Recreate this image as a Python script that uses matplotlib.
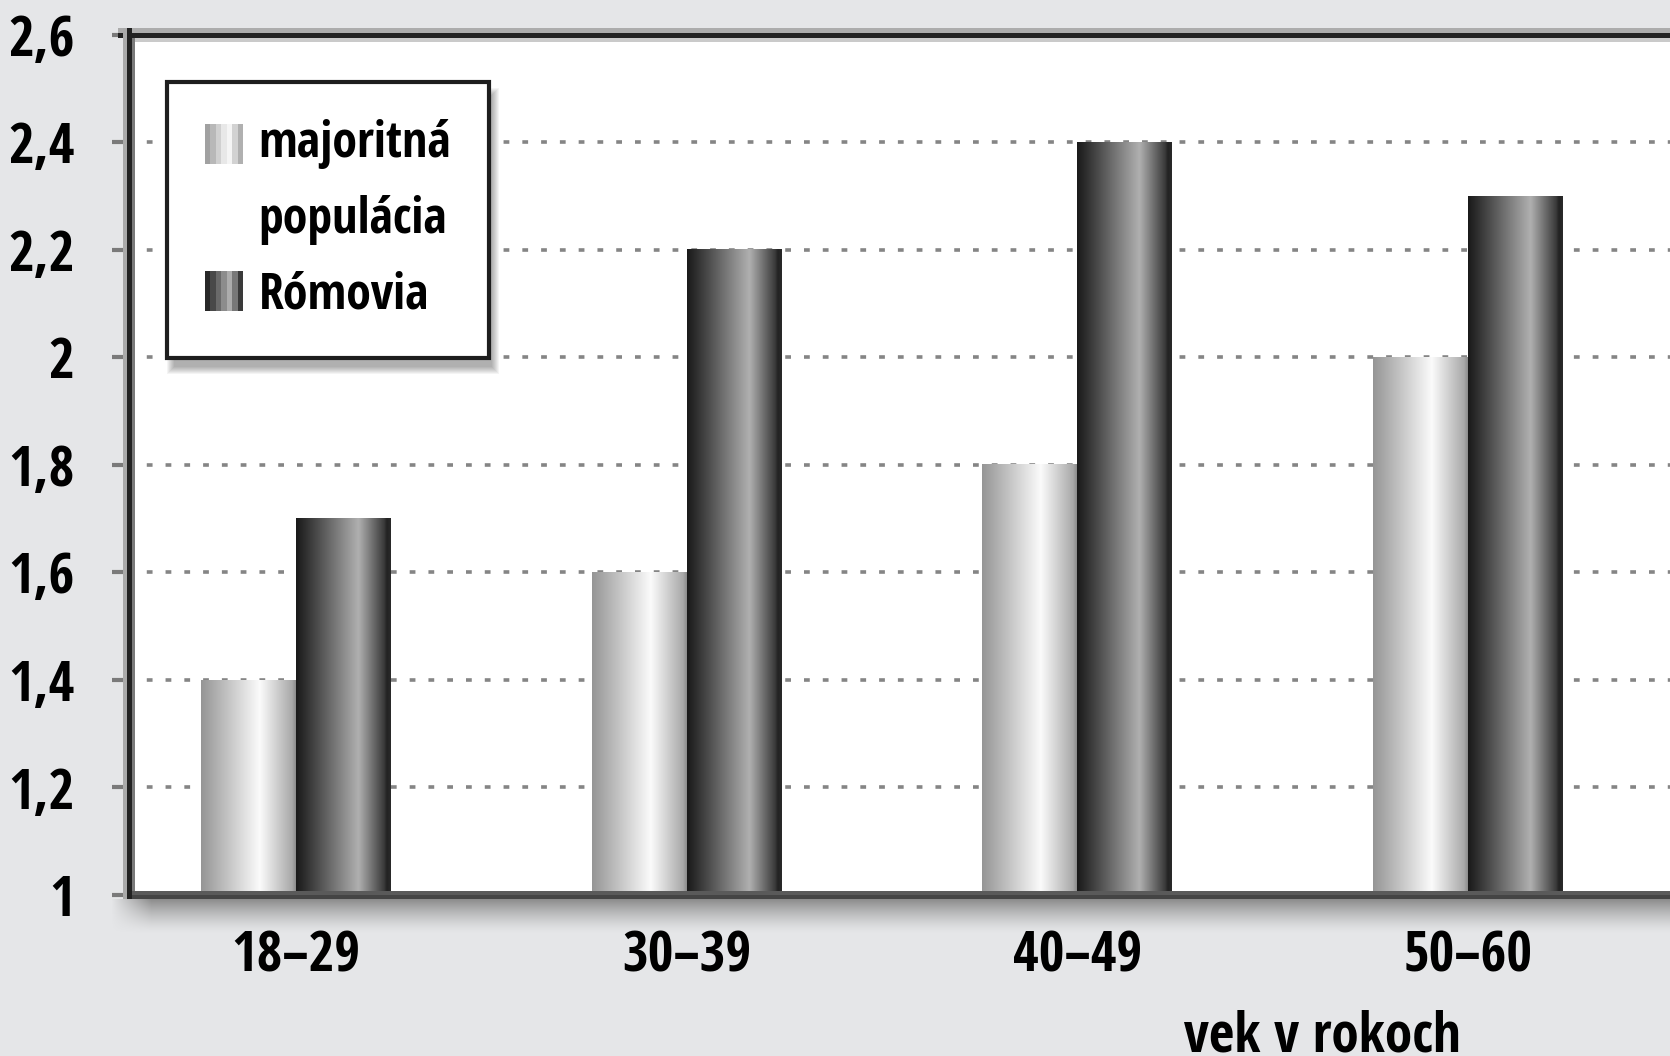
import numpy as np
import matplotlib
matplotlib.use('Agg')
import matplotlib.pyplot as plt
from matplotlib.colors import LinearSegmentedColormap
from matplotlib.legend_handler import HandlerBase
from matplotlib.patches import Rectangle
from matplotlib.transforms import IdentityTransform

# data
age_groups = ['18–29', '30–39', '40–49', '50–60']
majority = [1.4, 1.6, 1.8, 2.0]
roma = [1.7, 2.2, 2.4, 2.3]
series_labels = ['majoritná\npopulácia', 'Rómovia']
y_ticks = [1, 1.2, 1.4, 1.6, 1.8, 2, 2.2, 2.4, 2.6]
y_tick_labels = ['1', '1,2', '1,4', '1,6', '1,8', '2', '2,2', '2,4', '2,6']
x_title = 'vek v rokoch'

W, H = 1670, 1056
BG = '#e5e6e8'
plt.rcParams['font.family'] = ['Open Sans Condensed', 'DejaVu Sans']
plt.rcParams['font.weight'] = 'bold'

light = LinearSegmentedColormap.from_list(
    'light', [(0, '#959595'), (0.62, '#fbfbfb'), (0.96, '#a9a9a9'), (1, '#8c8c8c')])
dark = LinearSegmentedColormap.from_list(
    'dark', [(0, '#1a1a1a'), (0.06, '#262626'), (0.66, '#b0b0b0'),
             (0.93, '#3a3a3a'), (0.96, '#222222'), (1, '#2a2a2a')])


def fx(x):
    return x / W


def fy(y):
    # image pixel row -> figure fraction
    return 1 - y / H


fig = plt.figure(figsize=(W / 100, H / 100), dpi=100, facecolor=BG)

# axes box in image pixels (right side runs off the picture)
ax_l, ax_t, ax_r, ax_b = 128, 35, 1700, 895
ax = fig.add_axes([fx(ax_l), fy(ax_b), fx(ax_r - ax_l), (ax_b - ax_t) / H])
ax.set_facecolor('white')

x = np.arange(len(age_groups))
bw = 0.243
bars_maj = ax.bar(x - bw / 2, majority, bw, color='none', edgecolor='none')
bars_rom = ax.bar(x + bw / 2, roma, bw, color='none', edgecolor='none')

# cylinder-like shading on each bar
grad = np.linspace(0, 1, 256)[None, :]
for bars, cmap in ((bars_maj, light), (bars_rom, dark)):
    for r in bars:
        x0 = r.get_x()
        ax.imshow(grad, cmap=cmap, aspect='auto', interpolation='bilinear',
                  extent=[x0, x0 + r.get_width(), 0, r.get_height()], zorder=3)

group0, step = 296, 390.7
ax.set_xlim((ax_l - group0) / step, (ax_r - group0) / step)
ax.set_ylim(1, 2.6)

fs = 40
ax.set_yticks(y_ticks, y_tick_labels)
ax.set_xticks(x, age_groups)
ax.tick_params(axis='y', direction='out', length=11.5, width=3, color='#7a7a7a',
               pad=27, labelsize=fs)
ax.tick_params(axis='x', length=0, pad=25, labelsize=fs)
for s in ax.spines.values():
    s.set_visible(False)
ax.set_axisbelow(True)
ax.yaxis.grid(True, color='#858585', linewidth=2.6, linestyle=(0, (1.6, 3.6)))

ax.set_xlabel(x_title, fontsize=fs, fontweight='bold')
ax.xaxis.set_label_coords((1322 - ax_l) / (ax_r - ax_l), -(1052 - ax_b) / (ax_b - ax_t))
ax.xaxis.label.set_va('baseline')


# frame: top and left edges with a bit of relief
def band(x0, x1, y0, y1, color):
    fig.add_artist(Rectangle((fx(x0), fy(y1)), fx(x1 - x0), (y1 - y0) / H,
                             transform=fig.transFigure, facecolor=color,
                             edgecolor='none', zorder=3))


band(118, W, 28, 33, '#acacac')
band(118, W, 33, 38, '#222222')
band(132, W, 38, 42, '#cacaca')
band(123, 127, 28, 899, '#aaaaaa')
band(127, 132, 28, 899, '#222222')
band(132, 135, 38, 891, '#7a7a7a')

# bottom edge + soft shadow under the plot
sx0, sy0, sy1 = 111, 891, 933
rows, cols = sy1 - sy0, W - sx0
img = np.zeros((rows, cols, 4))
xs = np.arange(cols) + sx0
edge = np.clip((xs - 111) / 40, 0, 1)
for i in range(rows):
    if i < 4:
        img[i, :, :3] = 0x5a / 255
        img[i, :, 3] = (xs >= 127)
    elif i < 8:
        img[i, :, :3] = 0x44 / 255
        img[i, :, 3] = (xs >= 127)
    else:
        t = (i - 8) / (rows - 8)
        img[i, :, :3] = 0x8c / 255
        img[i, :, 3] = (1 - t) ** 1.4 * edge
sh = fig.add_axes([fx(sx0), fy(sy1), fx(cols), rows / H])
sh.imshow(img, aspect='auto', interpolation='nearest')
sh.set_axis_off()
sh.set_zorder(2)


class StripHandler(HandlerBase):
    def __init__(self, cmap, lift=0.0):
        super().__init__()
        self.cmap = cmap
        self.lift = lift

    def create_artists(self, legend, orig_handle, xdescent, ydescent,
                       width, height, fontsize, trans):
        n = 7
        out = []
        for i in range(n):
            out.append(Rectangle((-xdescent + i * width / n, -ydescent + self.lift),
                                 width / n, height, facecolor=self.cmap((i + 0.5) / n),
                                 edgecolor='none', transform=trans))
        return out


lfs = 36
line_sp = 1.68
h_maj = Rectangle((0, 0), 1, 1)
h_rom = Rectangle((0, 0), 1, 1)
leg = ax.legend([h_maj, h_rom], series_labels,
                handler_map={h_maj: StripHandler(light, lift=29),
                             h_rom: StripHandler(dark)},
                loc='upper left',
                bbox_to_anchor=((167 - ax_l) / (ax_r - ax_l), 1 - (82 - ax_t) / (ax_b - ax_t)),
                borderaxespad=0, borderpad=0.75, fontsize=lfs,
                handlelength=28 / lfs, handleheight=31 / lfs, handletextpad=0.3,
                labelspacing=0.5, fancybox=False, framealpha=1,
                edgecolor='#1e1e1e', facecolor='white')
leg.get_frame().set_linewidth(3)
leg.get_texts()[0].set_linespacing(line_sp)
leg.set_zorder(6)

# soft drop shadow behind the legend
fig.canvas.draw()
bb = leg.get_window_extent()
for k in range(1, 9):
    ax.add_patch(Rectangle((bb.x0 + 8 - k, bb.y0 - 8 - k), bb.width + 2 * k - 6,
                           bb.height + 2 * k - 6, transform=IdentityTransform(),
                           facecolor='black', edgecolor='none', alpha=0.045, zorder=5))

fig.savefig('out.png', dpi=100, facecolor=BG)
